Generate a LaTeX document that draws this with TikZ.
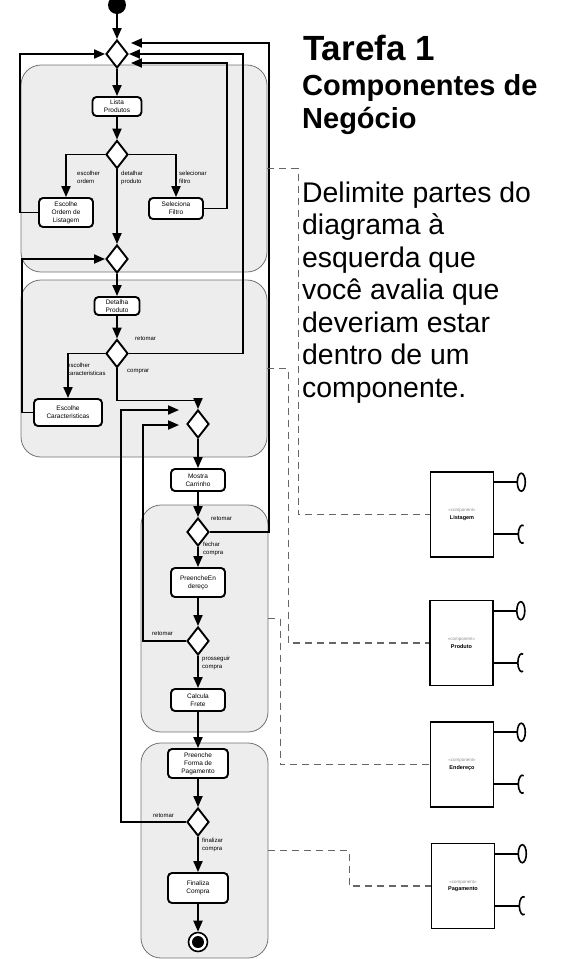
\documentclass[tikz,border=0pt]{standalone}
\usepackage{fontspec}
\setmainfont{Liberation Sans}
\usetikzlibrary{arrows.meta,shapes.geometric,calc}

\begin{document}
\begin{tikzpicture}[x=1pt,y=-1pt,
  act/.style={draw,line width=1.9pt,rounded corners=4pt,fill=white,minimum width=54pt,minimum height=21pt,inner sep=1pt,align=center,font=\fontsize{6.5}{8}\selectfont},
  dec/.style={draw,diamond,line width=1.9pt,fill=white,minimum width=22pt,minimum height=28pt,inner sep=0pt},
  area/.style={draw=black!55,line width=0.8pt,fill=black!7,rounded corners=20pt},
  flow/.style={line width=1.9pt,-{Triangle[length=11pt,width=9pt]}},
  lbl/.style={font=\fontsize{6}{7.5}\selectfont,align=left,inner sep=0pt,anchor=north west},
  comp/.style={draw,line width=1.6pt,minimum width=63pt,minimum height=85pt,inner sep=0pt,align=center,font=\fontsize{5.5}{7.5}\selectfont},
  dep/.style={draw=black!60,line width=1.6pt,dash pattern=on 7pt off 5pt}]
  \useasboundingbox (0,0) rectangle (576,959);
  \node[area,minimum width=246pt,minimum height=207pt] (r1) at (144,168.5) {};
  \node[area,minimum width=246pt,minimum height=177pt] (r2) at (144,368.5) {};
  \node[area,minimum width=127pt,minimum height=227pt] (r3) at (204.5,618.5) {};
  \node[area,minimum width=127pt,minimum height=215pt] (r4) at (204.5,850.5) {};

  \node[circle,fill=black,minimum size=18pt,inner sep=0pt] (ini) at (117,5) {};
  \node[dec] (d1) at (117,54) {};
  \node[act,minimum width=49pt,minimum height=19pt] (lista) at (117,106.5) {Lista\\Produtos};
  \node[dec] (d2) at (117,154.5) {};
  \node[act,minimum height=29pt] (ordem) at (66,212.5) {Escolhe\\Ordem de\\Listagem};
  \node[act] (filtro) at (176,208.5) {Seleciona\\Filtro};
  \node[dec] (d3) at (117,259) {};
  \node[act,minimum width=45pt,minimum height=18pt] (detalha) at (117,306) {Detalha\\Produto};
  \node[dec] (d4) at (117,353.5) {};
  \node[act,minimum width=68pt,minimum height=27pt] (carac) at (68,412.5) {Escolhe\\Caracteristicas};
  \node[dec] (d5) at (198,424) {};
  \node[act,minimum height=22pt] (carrinho) at (198,480) {Mostra\\Carrinho};
  \node[dec] (d6) at (198,532) {};
  \node[act,minimum height=29pt] (endereco) at (198,582.5) {PreencheEn\\dereço};
  \node[dec] (d7) at (198,641) {};
  \node[act,minimum height=22pt] (frete) at (198,700) {Calcula\\Frete};
  \node[act,minimum width=60pt,minimum height=29pt] (forma) at (198,763.5) {Preenche\\Forma de\\Pagamento};
  \node[dec] (d8) at (198,822) {};
  \node[act,minimum width=60pt,minimum height=30pt] (finaliza) at (198,888) {Finaliza\\Compra};
  \node[circle,draw,line width=1.6pt,fill=white,minimum size=19pt,inner sep=0pt] (fim) at (198,942) {};
  \node[circle,fill=black,minimum size=12pt,inner sep=0pt] (fimc) at (fim) {};

  \draw[flow] (ini) -- (d1);
  \draw[flow] (d1) -- (lista);
  \draw[flow] (lista) -- (d2);
  \draw[flow] (d2.west) -| (ordem.north);
  \draw[flow] (d2.east) -| (filtro.north);
  \draw[flow] (d2) -- (d3);
  \draw[flow] (d3) -- (detalha);
  \draw[flow] (detalha) -- (d4);
  \draw[flow] (d4.west) -| (carac.north);
  \draw[flow] (d4.south) -- ++(0,32) -| (d5.north);
  \draw[flow] (d5) -- (carrinho);
  \draw[flow] (carrinho) -- (d6);
  \draw[flow] (d6) -- (endereco);
  \draw[flow] (endereco) -- (d7);
  \draw[flow] (d7) -- (frete);
  \draw[flow] (frete) -- (forma);
  \draw[flow] (forma) -- (d8);
  \draw[flow] (d8) -- (finaliza);
  \draw[flow] (finaliza) -- (fim);

  \draw[flow] (ordem.west) -- ++(-18,0) |- (d1.west);
  \draw[flow] (filtro.east) -- ++(23,0) |- ($(d1.east)+(2,9)$);
  \draw[flow] (d4.east) -- ++(114,0) |- (d1.east);
  \draw[flow] (d6.east) -- ++(59,0) |- ($(d1.east)+(2,-11)$);
  \draw[flow] (carac.west) -- ++(-11,0) |- (d3.west);
  \draw[flow] (d8.west) -- ++(-65,0) |- ($(d5.west)+(-7,-14)$);
  \draw[flow] (d7.west) -- ++(-43,0) |- ($(d5.west)+(-7,1)$);

  \node[lbl] (l1) at (77,171) {escolher\\ordem};
  \node[lbl] (l2) at (121,171) {detalhar\\produto};
  \node[lbl] (l3) at (179,171) {selecionar\\filtro};
  \node[lbl] (l4) at (135,336) {retomar};
  \node[lbl] (l5) at (67,363) {escolher\\caracteristicas};
  \node[lbl] (l6) at (127,369) {comprar};
  \node[lbl] (l7) at (211,516) {retomar};
  \node[lbl] (l8) at (203,542) {fechar\\compra};
  \node[lbl] (l9) at (152,631) {retomar};
  \node[lbl] (l10) at (202,656) {prosseguir\\compra};
  \node[lbl] (l11) at (153,813) {retomar};
  \node[lbl] (l12) at (202,838) {finalizar\\compra};

  \node[comp] (cL) at (462,514.5) {{\color{black!45}\fontsize{4.5}{6}\selectfont «component»}\\\textbf{Listagem}};
  \node[comp] (cP) at (461.5,643) {{\color{black!45}\fontsize{4.5}{6}\selectfont «component»}\\\textbf{Produto}};
  \node[comp] (cE) at (462,764.5) {{\color{black!45}\fontsize{4.5}{6}\selectfont «component»}\\\textbf{Endereço}};
  \node[comp] (cPg) at (463,886) {{\color{black!45}\fontsize{4.5}{6}\selectfont «component»}\\\textbf{Pagamento}};
  \foreach \c in {cL,cP,cE,cPg} {
    \draw[line width=1.6pt] ($(\c.north east)+(0,11)$) -- ++(23,0) coordinate (\c o);
    \draw[line width=1.6pt,fill=white] ($(\c o)+(4,0)$) ellipse [x radius=4,y radius=9];
    \draw[line width=1.6pt] ($(\c.north east)+(0,63)$) -- ++(24,0) coordinate (\c s);
    \draw[line width=1.6pt] (\c s) arc[start angle=180,end angle=70,x radius=4,y radius=9];
    \draw[line width=1.6pt] (\c s) arc[start angle=180,end angle=290,x radius=4,y radius=9];
  }

  \draw[dep] (r1.east) -- ++(31,0) |- (cL.west);
  \draw[dep] (r2.east) -- ++(21,0) |- (cP.west);
  \draw[dep] (r3.east) -- ++(12,0) |- (cE.west);
  \draw[dep] (r4.east) -- ++(81,0) |- (cPg.west);

  \node[anchor=base west,inner sep=0pt,font=\fontsize{35}{40}\selectfont\bfseries] (titulo) at (303,60) {Tarefa 1};
  \node[anchor=base west,inner sep=0pt,font=\fontsize{29}{33}\selectfont\bfseries] (sub1) at (302,95) {Componentes de};
  \node[anchor=base west,inner sep=0pt,font=\fontsize{29}{33}\selectfont\bfseries] (sub2) at (302,128) {Negócio};
  \foreach \t [count=\i from 0] in {Delimite partes do,diagrama à,esquerda que,você avalia que,deveriam estar,dentro de um,componente.}
    \node[anchor=base west,inner sep=0pt,font=\fontsize{28.4}{32}\selectfont] (txt\i) at (302,202+32.5*\i) {\t};
\end{tikzpicture}
\end{document}
